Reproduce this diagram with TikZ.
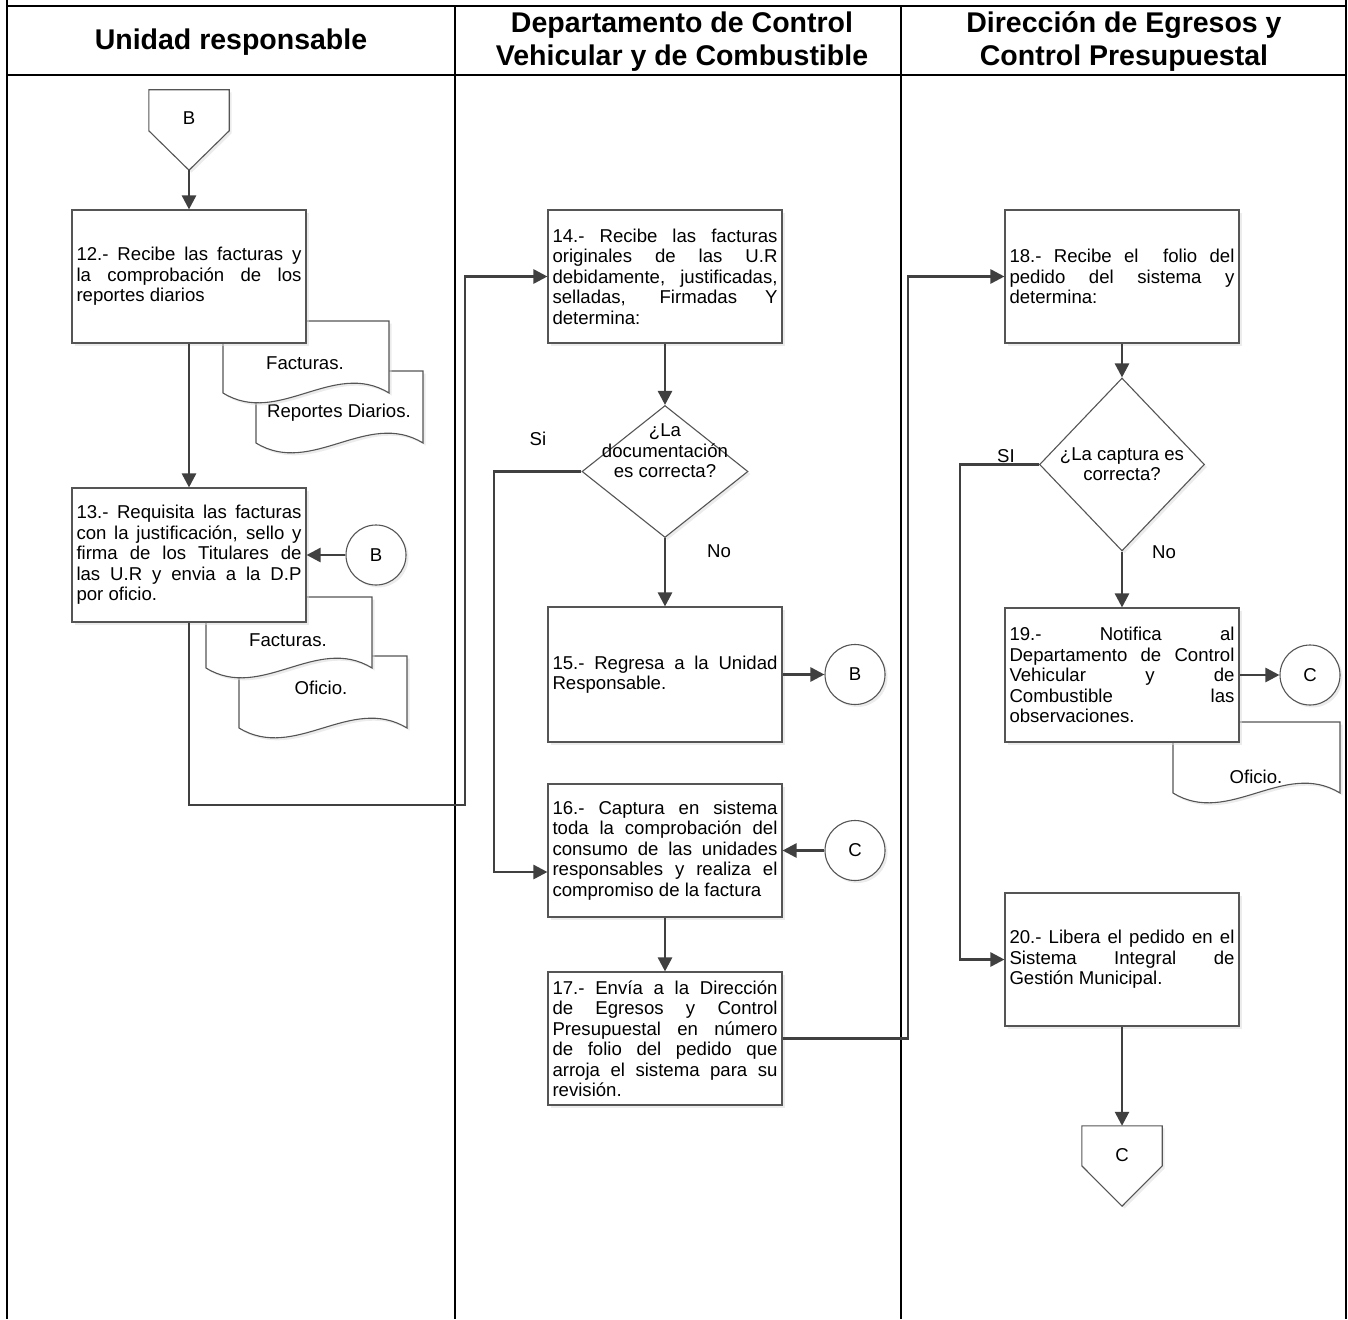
\documentclass[tikz,border=0pt]{standalone}
\usepackage{fontspec}
\setmainfont{Liberation Sans}
\usetikzlibrary{arrows.meta,shapes.geometric,shadows,calc}
\definecolor{connc}{HTML}{404040}
\definecolor{boxc}{HTML}{555555}
\newcommand\bodyf{\fontsize{18.6}{20.5}\selectfont\hyphenpenalty=10000\exhyphenpenalty=10000 }
\newcommand\headf{\fontsize{28.5}{33}\selectfont\bfseries}
\newcommand\docshape[4]{\path[docsh] (#1,#2) -- (#3,#2) -- (#3,#4) .. controls ({#3-(#3-#1)/3},{#4-34}) and ({#1+(#3-#1)/3},{#4+34}) .. (#1,#4) -- cycle;}
\begin{document}
\begin{tikzpicture}[x=1pt,y=-1pt,
  shd/.style={drop shadow={shadow xshift=2.5pt,shadow yshift=-2.5pt,fill=black!15}},
  proc/.style={draw=boxc,line width=1.1pt,fill=white,shd,minimum width=234pt,minimum height=133pt,text width=225pt,inner sep=0pt,align=justify,font=\bodyf},
  docsh/.style={draw=boxc,line width=1.1pt,fill=white,shd},
  doct/.style={font=\bodyf,inner sep=0pt},
  circ/.style={circle,draw=boxc,line width=1.1pt,fill=white,shd,minimum size=60pt,inner sep=0pt,font=\bodyf},
  dec/.style={diamond,draw=boxc,line width=1.1pt,fill=white,shd,inner sep=0pt},
  offp/.style={draw=boxc,line width=1.1pt,fill=white,shd},
  lbl/.style={font=\bodyf,inner sep=0pt},
  conn/.style={draw=connc,line width=2.6pt,-{Triangle[length=14pt,width=14pt]}},
  frame/.style={draw=black,line width=2.8pt},
  head/.style={font=\headf,align=center,inner sep=0pt}
]
\useasboundingbox (0,0) rectangle (1348,1319);
% frame
\draw[frame] (7,0) -- (7,1319);
\draw[frame] (1346,0) -- (1346,1319);
\draw[frame] (7,6) -- (1346,6);
\draw[frame] (7,75) -- (1346,75);
\draw[frame] (455,6) -- (455,1319);
\draw[frame] (901,6) -- (901,1319);
\node[head] (h1) at (231,42) {Unidad responsable};
\node[head] (h2) at (682,42) {Departamento de Control\\Vehicular y de Combustible};
\node[head] (h3) at (1124,42) {Dirección de Egresos y\\Control Presupuestal};

% column 1
\node[minimum width=80pt,minimum height=80pt,inner sep=0pt] (offB) at (189,130) {};
\path[offp] (offB.north west) -- (offB.north east) -- ($(offB.north east)+(0,41)$) -- (offB.south) -- ($(offB.north west)+(0,41)$) -- cycle;
\node[lbl] (offBt) at ($(offB.north)+(0,28)$) {B};

\docshape{256}{371}{423}{443}
\node[doct] (r1t) at (339,413) {Reportes Diarios.};
\docshape{223}{321}{389}{393}
\node[doct] (f1t) at (305,363) {Facturas.};
\node[proc] (b12) at (189,276.5) {12.- Recibe las facturas y\linebreak la comprobación de los\linebreak reportes diarios};

\docshape{239}{656}{407}{728}
\node[doct] (o2t) at (321,688) {Oficio.};
\docshape{206}{597}{372}{668}
\node[doct] (f2t) at (288,640) {Facturas.};
\node[proc,minimum height=134pt] (b13) at (189,555) {13.- Requisita las facturas\linebreak con la justificación, sello y\linebreak firma de los Titulares de\linebreak las U.R y envia a la D.P\linebreak por oficio.};
\node[circ] (cB1) at (376,555) {B};

% column 2
\node[proc] (b14) at (665,276.5) {14.- Recibe las facturas\linebreak originales de las U.R\linebreak debidamente, justificadas,\linebreak selladas, Firmadas Y\linebreak determina:};
\node[dec,minimum width=166pt,minimum height=132pt] (d1) at (665,471.5) {};
\node[font=\bodyf,align=center,inner sep=0pt] (d1t) at (665,451) {¿La\\documentación\\es correcta?};
\node[lbl] (si1) at (538,439) {Si};
\node[lbl] (no1) at (719,551) {No};
\node[proc,minimum height=135pt] (b15) at (665,674.5) {15.- Regresa a la Unidad\linebreak Responsable.};
\node[circ] (cB2) at (855,674.5) {B};
\node[proc] (b16) at (665,850.5) {16.- Captura en sistema\linebreak toda la comprobación del\linebreak consumo de las unidades\linebreak responsables y realiza el\linebreak compromiso de la factura};
\node[circ] (cC1) at (855,850.5) {C};
\node[proc] (b17) at (665,1038.5) {17.- Envía a la Dirección\linebreak de Egresos y Control\linebreak Presupuestal en número\linebreak de folio del pedido que\linebreak arroja el sistema para su\linebreak revisión.};

% column 3
\node[proc] (b18) at (1122,276.5) {18.- Recibe el\ \ folio del\linebreak pedido del sistema y\linebreak determina:};
\node[dec,minimum width=165pt,minimum height=173pt] (d2) at (1122,464.5) {};
\node[font=\bodyf,align=center,inner sep=0pt] (d2t) at (1122,464) {¿La captura es\\correcta?};
\node[lbl] (si2) at (1006,456) {SI};
\node[lbl] (no2) at (1164,552) {No};
\docshape{1173}{722}{1340}{793}
\node[doct] (o3t) at (1256,777) {Oficio.};
\node[proc,minimum height=134pt] (b19) at (1122,675) {19.- Notifica al\linebreak Departamento de Control\linebreak Vehicular y de\linebreak Combustible las\linebreak observaciones.};
\node[circ] (cC2) at (1310,675) {C};
\node[proc] (b20) at (1122,959.5) {20.- Libera el pedido en el\linebreak Sistema Integral de\linebreak Gestión Municipal.};

\node[minimum width=80pt,minimum height=80pt,inner sep=0pt] (offC) at (1122,1166) {};
\path[offp] (offC.north west) -- (offC.north east) -- ($(offC.north east)+(0,40)$) -- (offC.south) -- ($(offC.north west)+(0,40)$) -- cycle;
\node[lbl] (offCt) at ($(offC.north)+(0,29)$) {C};

% connectors
\coordinate (j1) at (465,805);
\coordinate (j2) at (494,872);
\coordinate (j3) at (908,1038.5);
\coordinate (j4) at (960,959.5);
\draw[conn] (offB.south) -- (b12.north);
\draw[conn] (b12.south) -- (b13.north);
\draw[conn] (cB1.west) -- (b13.east);
\draw[conn] (b13.south) |- (j1) |- (b14.west);
\draw[conn] (b14.south) -- (d1.north);
\draw[conn] (d1.south) -- (b15.north);
\draw[conn] (d1.west) -| (j2) -- (b16.west |- j2);
\draw[conn] (b15.east) -- (cB2.west);
\draw[conn] (cC1.west) -- (b16.east);
\draw[conn] (b16.south) -- (b17.north);
\draw[conn] (b17.east) -- (j3) |- (b18.west);
\draw[conn] (b18.south) -- (d2.north);
\draw[conn] (d2.south) -- (b19.north);
\draw[conn] (d2.west) -| (j4) -- (b20.west);
\draw[conn] (b19.east) -- (cC2.west);
\draw[conn] (b20.south) -- (offC.north);
\end{tikzpicture}
\end{document}
